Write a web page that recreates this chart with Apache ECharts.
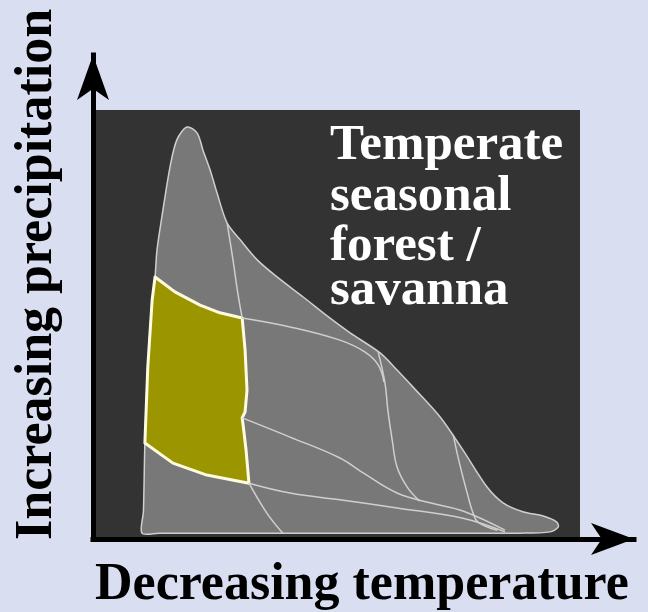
<!DOCTYPE html>
<html>
<head>
<meta charset="utf-8">
<title>Temperate seasonal forest / savanna</title>
<script src="https://cdn.jsdelivr.net/npm/echarts@6/dist/echarts.min.js"></script>
<style>
  html, body { margin: 0; padding: 0; background: #d9dff0; }
  #chart { width: 648px; height: 612px; }
</style>
</head>
<body>
<div id="chart"></div>
<script>
// climate space, both axes 0-100 (temperature decreasing to the right, precipitation up)
const outerBoundary = [
  [9.5, 0.9], [9.8, 6], [10.1, 22.0], [10.7, 39.8], [11.6, 55.5], [12.2, 60.9], [12.6, 67.2],
  [13.6, 74.9], [15.3, 86.7], [16.7, 93.0], [18.8, 96.0], [20.9, 94.6], [22.1, 90.6],
  [23.6, 85.9], [25.0, 80.6], [27.1, 73.5], [29.8, 69.6], [33.3, 64.9], [37.4, 60.9],
  [42.8, 56.2], [48.3, 51.3], [52.5, 47.8], [58.7, 43.1], [62.2, 39.1], [65.5, 35.1],
  [71.1, 28.1], [75.8, 20.4], [80.8, 11.7], [84.1, 8.0], [88.2, 5.9], [92.4, 4.9],
  [95.2, 3.5], [95.5, 2.3], [93.8, 1.2], [87.6, 0.9], [70, 0.9], [50, 0.9], [30, 0.9], [13, 0.9]
];

// highlighted biome: temperate seasonal forest / savanna
const savannaBiome = [
  [12.2, 60.9], [16.3, 57.4], [21.5, 54.3], [25.6, 52.5], [30.2, 51.3],
  [30.8, 43.8], [31.2, 34.4], [30.8, 29.3], [30.2, 27.9], [30.4, 26.2], [31.0, 20.4], [31.6, 12.6],
  [22.9, 14.5], [15.9, 17.3], [10.1, 22.0], [10.7, 39.8], [11.6, 55.5]
];

// other biome borders
const borderA = [[27.1, 73.5], [28.3, 64.9], [29.3, 57.1], [30.2, 51.3]];
const borderB = [[31.6, 12.6], [35.3, 5.6], [38.6, 0.9]];
const borderC = [[30.2, 51.3], [40.1, 49.2], [50.4, 46.1], [55.6, 43.3], [58.3, 40.3], [59.5, 36.3]];
const borderD = [[58.3, 43.3], [59.7, 36.1], [60.3, 29.7], [61.2, 22.7], [62.2, 16.4], [64.3, 11.7], [66.9, 8.4]];
const borderE = [[30.2, 27.9], [40.1, 23.4], [50.4, 18.5], [55.2, 15.0], [62.2, 10.3], [69.0, 8.0], [75.8, 6.1], [84.5, 1.6]];
const borderF = [[31.6, 12.6], [40.1, 10.3], [50.4, 8.7], [62.2, 6.8], [75.8, 4.4], [84.5, 1.2]];
const borderG = [[73.8, 23.9], [74.8, 18.7], [75.8, 14.1], [76.9, 9.4], [77.9, 5.6], [78.9, 3.5], [82.9, 1.6]];

const xLabel = 'Decreasing temperature';
const yLabel = 'Increasing precipitation';
const biomeLines = ['Temperate', 'seasonal', 'forest /', 'savanna'];

const serif = '"Liberation Serif", "DejaVu Serif", serif';

function polygonSeries(points, style, smooth) {
  return {
    type: 'custom',
    xAxisIndex: 1,
    yAxisIndex: 1,
    data: points,
    silent: true,
    renderItem: function (params, api) {
      if (params.dataIndex !== 0) return;
      const pts = points.map(p => api.coord(p));
      return { type: 'polygon', shape: { points: pts, smooth: smooth }, style: style };
    }
  };
}

function borderSeries(points) {
  return {
    type: 'line',
    xAxisIndex: 1,
    yAxisIndex: 1,
    data: points,
    smooth: 0.4,
    showSymbol: false,
    silent: true,
    lineStyle: { color: '#cfcfcf', width: 1.5 }
  };
}

const chart = echarts.init(document.getElementById('chart'));

const option = {
  backgroundColor: '#d9dff0',
  animation: false,
  grid: [
    { left: 93, right: 14, top: 55, bottom: 73 },
    { left: 96, right: 68, top: 110, bottom: 75, show: true, backgroundColor: '#333333', borderWidth: 0 }
  ],
  xAxis: [
    {
      gridIndex: 0, type: 'value', min: 0, max: 1,
      axisLine: { show: true, symbol: ['none', 'arrow'], symbolSize: [24, 43], lineStyle: { color: '#000', width: 5, cap: 'square' } },
      axisTick: { show: false }, axisLabel: { show: false }, splitLine: { show: false }
    },
    { gridIndex: 1, type: 'value', min: 0, max: 100, show: false }
  ],
  yAxis: [
    {
      gridIndex: 0, type: 'value', min: 0, max: 1,
      axisLine: { show: true, symbol: ['none', 'arrow'], symbolSize: [24, 45], lineStyle: { color: '#000', width: 5, cap: 'square' } },
      axisTick: { show: false }, axisLabel: { show: false }, splitLine: { show: false }
    },
    { gridIndex: 1, type: 'value', min: 0, max: 100, show: false }
  ],
  graphic: [
    {
      type: 'text', x: 95, y: 586,
      style: { text: xLabel, font: 'bold 52px ' + serif, fill: '#000', textAlign: 'left', textVerticalAlign: 'middle' }
    },
    {
      type: 'text', x: 38, y: 540, rotation: Math.PI / 2,
      style: { text: yLabel, font: 'bold 52px ' + serif, fill: '#000', textAlign: 'left', textVerticalAlign: 'middle' }
    },
    { type: 'text', x: 330, y: 146, style: { text: biomeLines[0], font: 'bold 51px ' + serif, fill: '#fff', textVerticalAlign: 'middle' } },
    { type: 'text', x: 330, y: 197, style: { text: biomeLines[1], font: 'bold 51px ' + serif, fill: '#fff', textVerticalAlign: 'middle' } },
    { type: 'text', x: 330, y: 247, style: { text: biomeLines[2], font: 'bold 51px ' + serif, fill: '#fff', textVerticalAlign: 'middle' } },
    { type: 'text', x: 330, y: 291, style: { text: biomeLines[3], font: 'bold 51px ' + serif, fill: '#fff', textVerticalAlign: 'middle' } }
  ],
  series: [
    polygonSeries(outerBoundary, { fill: '#787878', stroke: '#cfcfcf', lineWidth: 1.5 }, 0.3),
    borderSeries(borderA),
    borderSeries(borderB),
    borderSeries(borderC),
    borderSeries(borderD),
    borderSeries(borderE),
    borderSeries(borderF),
    borderSeries(borderG),
    polygonSeries(savannaBiome, { fill: '#9b9600', stroke: '#fffbe0', lineWidth: 3, lineJoin: 'round' }, 0)
  ]
};

chart.setOption(option);
</script>
</body>
</html>
